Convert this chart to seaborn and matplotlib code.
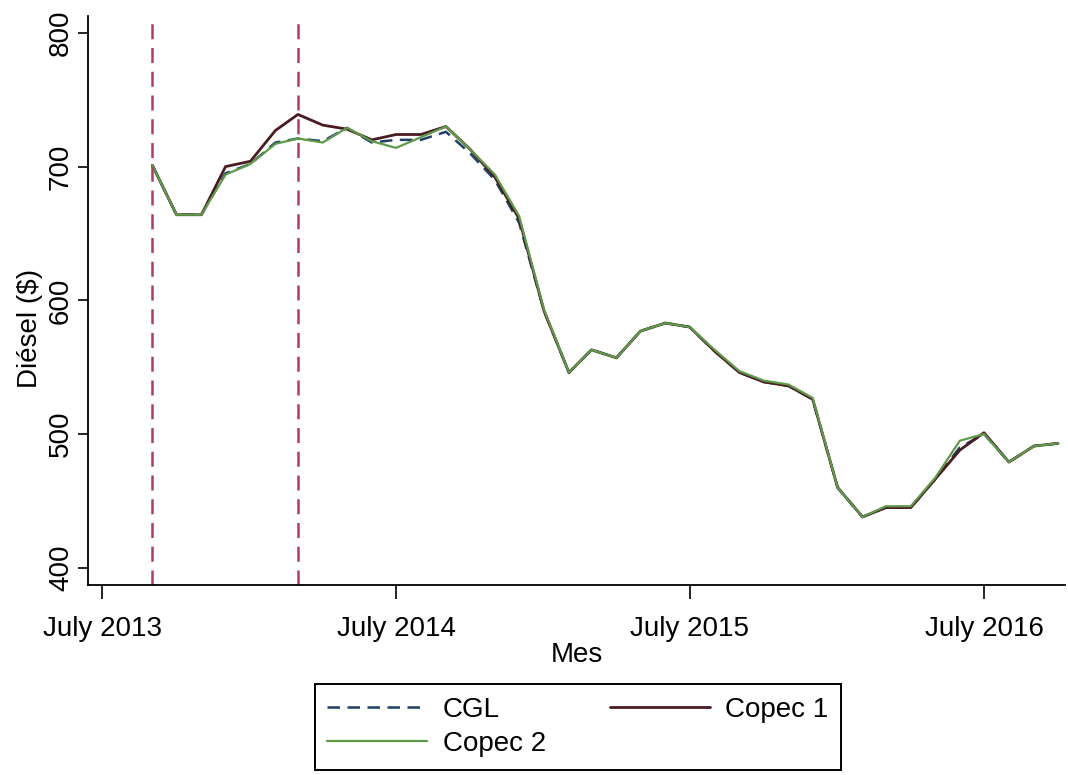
import pandas as pd
import seaborn as sns
import matplotlib.pyplot as plt
import matplotlib.dates as mdates

# monthly diesel price, Sep 2013 .. Oct 2016
meses = pd.date_range("2013-09-01", "2016-10-01", freq="MS")

cgl = [701, 664, 664, 695, 702, 718, 721, 719, 729, 718, 720, 720, 726,
       710, 690, 658, 592, 546, 563, 557, 577, 583, 580, 562, 546, 539,
       536, 526, 460, 438, 445, 445, 466, 490, 500, 479, 491, 493]
copec1 = [701, 664, 664, 700, 704, 727, 739, 731, 728, 720, 724, 724, 730,
          713, 692, 661, 592, 546, 563, 557, 577, 583, 580, 562, 546, 539,
          536, 526, 460, 438, 445, 445, 466, 488, 501, 479, 491, 493]
copec2 = [701, 664, 664, 694, 702, 717, 721, 718, 729, 719, 714, 722, 730,
          713, 694, 663, 593, 546, 563, 557, 577, 583, 580, 563, 547, 540,
          537, 527, 460, 438, 446, 446, 467, 495, 500, 479, 491, 493]

eventos = ["2013-09-01", "2014-03-01"]

series = ["CGL", "Copec 1", "Copec 2"]
colores = {"CGL": "#1f3f66", "Copec 1": "#4a1c22", "Copec 2": "#5f9a4a"}


def main():
    df = pd.concat([
        pd.DataFrame({"Mes": meses, "precio": vals, "serie": name})
        for name, vals in zip(series, [cgl, copec1, copec2])
    ])

    sns.set_style("ticks")
    plt.rcParams["font.family"] = ["Liberation Sans", "DejaVu Sans"]
    for k in ["text.color", "axes.labelcolor", "xtick.color", "ytick.color"]:
        plt.rcParams[k] = "black"

    fig = plt.figure(figsize=(10.68, 7.75), dpi=100)
    ax = fig.add_axes([0.0824, 0.245, 0.915, 0.735])

    sns.lineplot(data=df, x="Mes", y="precio", hue="serie", style="serie",
                 palette=colores, dashes={"CGL": (5, 3), "Copec 1": "", "Copec 2": ""},
                 linewidth=1.8, ax=ax, legend=False)
    for ln, w in zip(ax.get_lines(), [1.8, 2.0, 1.6]):
        ln.set_linewidth(w)

    for d in eventos:
        ax.axvline(pd.Timestamp(d), color="#b23a66", lw=1.8, ls=(0, (6, 3.5)))

    ax.set_ylim(387, 813)
    ax.set_yticks([400, 500, 600, 700, 800])
    ax.set_xlim(pd.Timestamp("2013-06-13"), pd.Timestamp("2016-10-10"))
    ax.xaxis.set_major_locator(mdates.MonthLocator(bymonth=7))
    ax.xaxis.set_major_formatter(mdates.DateFormatter("%B %Y"))

    ax.tick_params(axis="x", labelsize=20, length=10, width=1.2, pad=12)
    ax.tick_params(axis="y", labelsize=20, length=7, width=1.2, labelrotation=90, pad=3)
    for lbl in ax.get_yticklabels():
        lbl.set_va("center")

    ax.set_xlabel("Mes", fontsize=20, labelpad=0)
    ax.set_ylabel("Diésel ($)", fontsize=20)
    ax.yaxis.set_label_coords(-0.046, 0.45)

    sns.despine(ax=ax)
    for s in ["left", "bottom"]:
        ax.spines[s].set_linewidth(1.3)
        ax.spines[s].set_color("black")

    h = ax.get_lines()
    leg = fig.legend([h[0], h[2], h[1]], ["CGL", "Copec 2", "Copec 1"],
                     ncol=2, loc="center", bbox_to_anchor=(0.541, 0.062),
                     fontsize=20, handlelength=3.6, handletextpad=0.55,
                     columnspacing=2.3, labelspacing=0.3, borderpad=0.45,
                     fancybox=False, edgecolor="black", framealpha=1)
    leg.get_frame().set_linewidth(1.4)

    plt.savefig("out.png", dpi=100)


if __name__ == "__main__":
    main()
